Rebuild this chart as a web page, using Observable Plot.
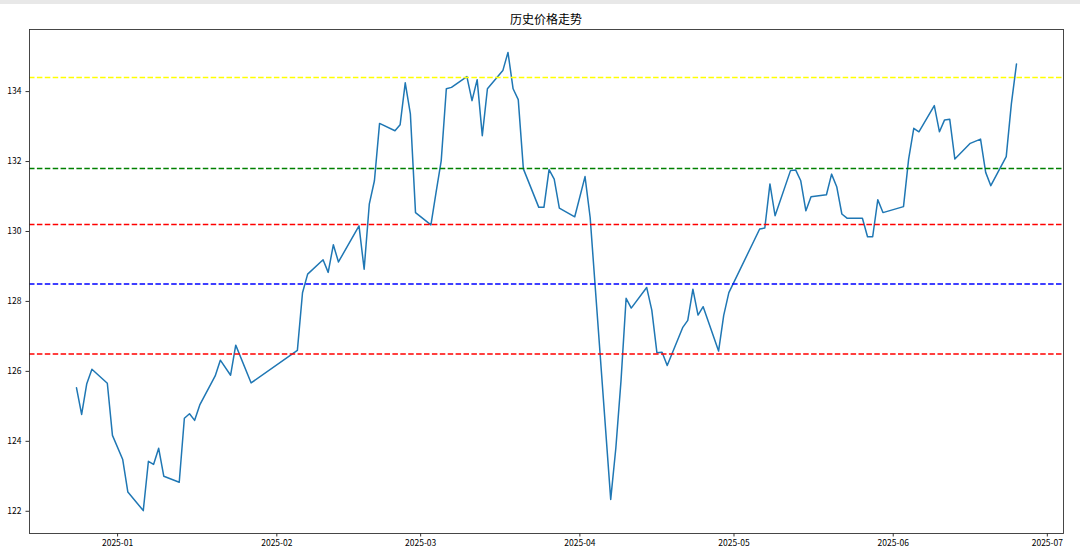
<!DOCTYPE html>
<html>
<head>
<meta charset="utf-8">
<script src="https://cdn.jsdelivr.net/npm/d3@7"></script>
<script src="https://cdn.jsdelivr.net/npm/@observablehq/plot@0.6"></script>
<style>
  html, body { margin: 0; padding: 0; background: #fff; }
  #bar { height: 4px; background: #e8e8e8; }
  #title {
    height: 23px; box-sizing: border-box; padding: 8px 17px 0 29px;
    font-family: "Noto Sans CJK SC", sans-serif; font-size: 12px; line-height: 14px;
    text-align: center; color: #000;
  }
  #chart svg { display: block; }
</style>
</head>
<body>
<div id="bar"></div>
<div id="title">历史价格走势</div>
<div id="chart"></div>
<script>
const dates = [
  "2024-12-24","2024-12-25","2024-12-26","2024-12-27","2024-12-30","2024-12-31",
  "2025-01-02","2025-01-03","2025-01-06","2025-01-07","2025-01-08","2025-01-09","2025-01-10",
  "2025-01-13","2025-01-14","2025-01-15","2025-01-16","2025-01-17","2025-01-20","2025-01-21",
  "2025-01-23","2025-01-24","2025-01-27",
  "2025-02-05","2025-02-06","2025-02-07","2025-02-10","2025-02-11","2025-02-12","2025-02-13",
  "2025-02-17","2025-02-18","2025-02-19","2025-02-20","2025-02-21","2025-02-24","2025-02-25",
  "2025-02-26","2025-02-27","2025-02-28",
  "2025-03-03","2025-03-04","2025-03-05","2025-03-06","2025-03-07","2025-03-10","2025-03-11",
  "2025-03-12","2025-03-13","2025-03-14","2025-03-17","2025-03-18","2025-03-19","2025-03-20",
  "2025-03-21","2025-03-24","2025-03-25","2025-03-26","2025-03-27","2025-03-28","2025-03-31",
  "2025-04-02","2025-04-03","2025-04-07","2025-04-08","2025-04-09","2025-04-10","2025-04-11",
  "2025-04-14","2025-04-15","2025-04-16","2025-04-17","2025-04-18","2025-04-21","2025-04-22",
  "2025-04-23","2025-04-24","2025-04-25","2025-04-28","2025-04-29","2025-04-30",
  "2025-05-06","2025-05-07","2025-05-08","2025-05-09","2025-05-12","2025-05-13","2025-05-14",
  "2025-05-15","2025-05-16","2025-05-19","2025-05-20","2025-05-21","2025-05-22","2025-05-23",
  "2025-05-26","2025-05-27","2025-05-28","2025-05-29","2025-05-30",
  "2025-06-03","2025-06-04","2025-06-05","2025-06-06","2025-06-09","2025-06-10","2025-06-11",
  "2025-06-12","2025-06-13","2025-06-16","2025-06-18","2025-06-19","2025-06-20","2025-06-23",
  "2025-06-24","2025-06-25"
];
const prices = [
  125.53,124.77,125.65,126.06,125.66,124.17,
  123.48,122.55,122.02,123.43,123.34,123.80,123.00,
  122.83,124.66,124.79,124.60,125.04,125.87,126.32,
  125.89,126.75,125.67,
  126.60,128.25,128.78,129.19,128.83,129.62,129.13,
  130.16,128.92,130.78,131.45,133.09,132.88,133.05,
  134.25,133.36,130.54,
  130.19,131.12,132.02,134.08,134.12,134.43,133.74,
  134.34,132.74,134.08,134.60,135.12,134.08,133.77,
  131.79,130.69,130.69,131.77,131.50,130.67,130.42,
  131.57,130.40,122.34,123.81,125.72,128.09,127.81,
  128.40,127.75,126.53,126.55,126.17,127.25,127.46,
  128.35,127.61,127.85,126.58,127.60,128.25,
  130.07,130.10,131.36,130.45,131.74,131.76,131.45,
  130.59,130.99,131.05,131.64,131.28,130.50,130.38,
  130.38,129.85,129.85,130.91,130.54,
  130.71,132.07,132.95,132.85,133.60,132.85,133.19,
  133.21,132.07,132.52,132.64,131.69,131.31,132.14,
  133.65,134.79
];
const levels = [134.4, 131.8, 130.2, 128.5, 126.5];
const yTicks = [122, 124, 126, 128, 130, 132, 134];
const xTickLabels = ["2025-01","2025-02","2025-03","2025-04","2025-05","2025-06","2025-07"];

const levelColors = ["#ffff00", "#008000", "#ff0000", "#0000ff", "#ff0000"];

const data = dates.map((d, i) => ({date: new Date(d + "T00:00:00Z"), price: prices[i]}));
const [x0, x1] = d3.extent(data, d => d.date);
const xPad = (x1 - x0) * 0.05;
const [y0, y1] = d3.extent(prices);
const yPad = (y1 - y0) * 0.05;
const xTicks = xTickLabels.map(s => new Date(s + "-01T00:00:00Z"));

const chart = Plot.plot({
  width: 1080,
  height: 533,
  marginTop: 2,
  marginBottom: 27,
  marginLeft: 29,
  marginRight: 17,
  x: {type: "utc", domain: [new Date(+x0 - xPad), new Date(+x1 + xPad)]},
  y: {domain: [y0 - yPad, y1 + yPad]},
  style: {fontFamily: "'Noto Sans CJK SC', sans-serif", fontSize: "8.5px", color: "#000", background: "#fff", overflow: "visible"},
  marks: [
    Plot.line(data, {x: "date", y: "price", stroke: "#1f77b4", strokeWidth: 1.5}),
    ...levels.map((v, i) => Plot.ruleY([v], {stroke: levelColors[i], strokeWidth: 1.5, strokeDasharray: "5.5,2.4"})),
    Plot.frame({stroke: "#333", strokeWidth: 0.9}),
    Plot.axisX({ticks: xTicks, tickFormat: d3.utcFormat("%Y-%m"), tickSize: 3.5, tickPadding: 3, label: null, stroke: "#333"}),
    Plot.axisY({ticks: yTicks, tickFormat: d => String(d), tickSize: 3.5, tickPadding: 4.5, label: null, stroke: "#333"})
  ]
});
document.getElementById("chart").appendChild(chart);
</script>
</body>
</html>
